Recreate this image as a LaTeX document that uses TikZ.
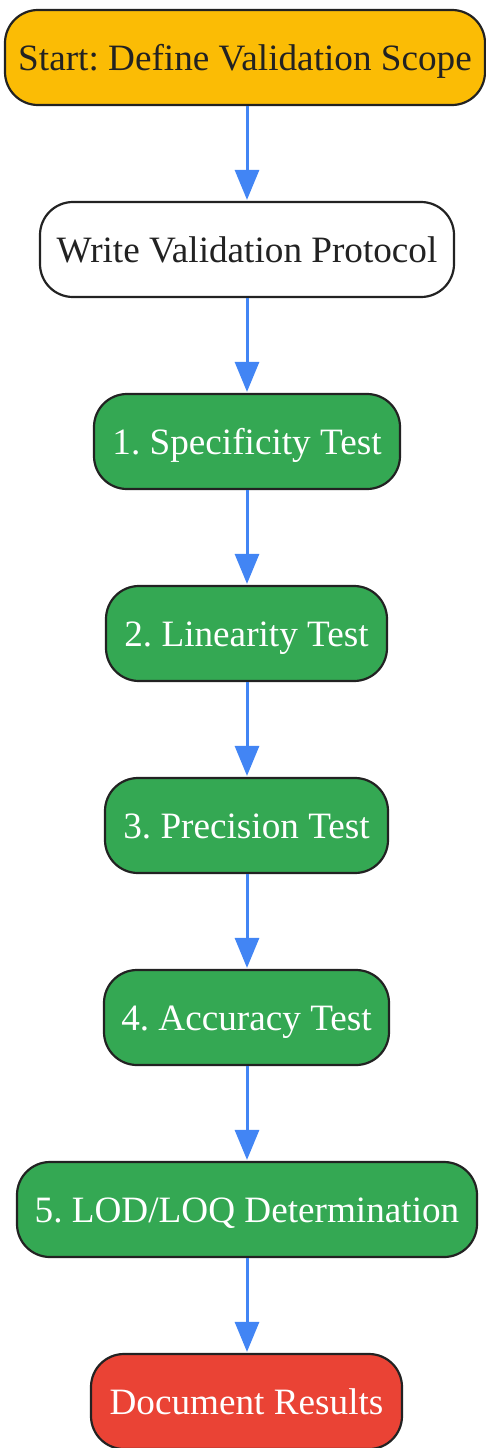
\documentclass[tikz,border=0pt]{standalone}
\usepackage{fontspec}
\setmainfont{Liberation Serif}
\usetikzlibrary{arrows.meta}
\definecolor{gyellow}{HTML}{FBBC05}
\definecolor{ggreen}{HTML}{34A853}
\definecolor{gred}{HTML}{EA4335}
\definecolor{gblue}{HTML}{4285F4}
\definecolor{edgec}{HTML}{222222}
\definecolor{darktext}{HTML}{222222}
\tikzset{
  box/.style={draw=edgec, line width=2.2pt, rounded corners=33pt, minimum height=95pt,
    inner sep=0pt, align=center, text height=26.6pt, text depth=0pt,
    font=\fontsize{37.2pt}{40pt}\selectfont\frenchspacing},
  yellowbox/.style={box, fill=gyellow, text=darktext},
  whitebox/.style={box, fill=white, text=darktext},
  greenbox/.style={box, fill=ggreen, text=white},
  redbox/.style={box, fill=gred, text=white},
  flow/.style={draw=gblue, line width=3pt, -{Triangle[length=30pt, width=24pt]}, shorten >=1pt}
}
\begin{document}
\begin{tikzpicture}[x=1pt, y=-1pt]
\useasboundingbox (0,0) rectangle (485,1448);
\node[yellowbox, minimum width=480pt] (n1) at (245,57.5) {Start: Define Validation Scope};
\node[whitebox, minimum width=414pt] (n2) at (247,249.5) {Write Validation Protocol};
\node[greenbox, minimum width=306pt] (n3) at (247,441.5) {1. Specificity Test};
\node[greenbox, minimum width=281pt] (n4) at (246.5,633.5) {2. Linearity Test};
\node[greenbox, minimum width=283pt] (n5) at (246.5,825.5) {3. Precision Test};
\node[greenbox, minimum width=285pt] (n6) at (246.5,1017.5) {4. Accuracy Test};
\node[greenbox, minimum width=460pt] (n7) at (247,1209.5) {5. LOD/LOQ Determination};
\node[redbox, minimum width=311pt] (n8) at (246.5,1401.5) {Document Results};
\foreach \a/\b in {n1/n2,n2/n3,n3/n4,n4/n5,n5/n6,n6/n7,n7/n8}
  \draw[flow] (\a.south -| 247,0) -- (\b.north -| 247,0);
\end{tikzpicture}
\end{document}
